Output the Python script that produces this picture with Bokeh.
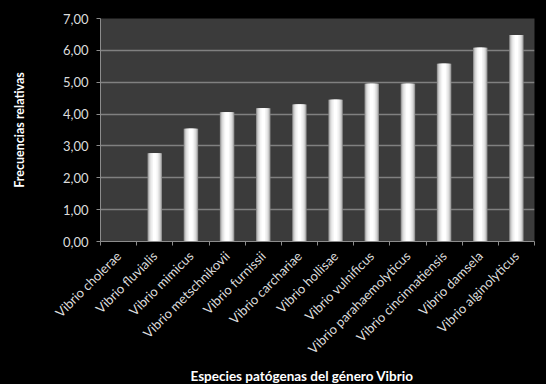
import math
from bokeh.plotting import figure
from bokeh.models import FixedTicker, Title, ColumnDataSource, Range1d
from bokeh.embed import file_html
from bokeh.resources import INLINE

categories = ["Vibrio cholerae", "Vibrio fluvialis", "Vibrio mimicus", "Vibrio metschnikovii",
              "Vibrio furnissii", "Vibrio carchariae", "Vibrio hollisae", "Vibrio vulnificus",
              "Vibrio parahaemolyticus", "Vibrio cincinnatiensis", "Vibrio damsela",
              "Vibrio alginolyticus"]
values = [0.0, 2.77, 3.54, 4.06, 4.18, 4.30, 4.45, 4.95, 4.95, 5.58, 6.08, 6.48]
y_ticks = [0, 1, 2, 3, 4, 5, 6, 7]
y_tick_labels = ["0,00", "1,00", "2,00", "3,00", "4,00", "5,00", "6,00", "7,00"]
x_title = "Especies patógenas del género Vibrio"
y_title = "Frecuencias relativas"

FONT = "Lato"
xs = [i + 0.5 for i in range(len(categories))]
src = ColumnDataSource(dict(x=xs, top=values))

p = figure(width=546, height=384, output_backend="svg", toolbar_location=None,
           x_range=Range1d(0, len(categories)), y_range=Range1d(0, 7),
           background_fill_color="#3b3b3b", border_fill_color="#000000",
           outline_line_color=None,
           min_border_left=100, min_border_right=12, min_border_top=18, min_border_bottom=143)

# bars with a simulated horizontal gradient (grey edges, white centre)
layers = [(0.40, "#8a8a8a"), (0.36, "#b4b4b4"), (0.31, "#d2d2d2"),
          (0.25, "#e6e6e6"), (0.18, "#f4f4f4"), (0.10, "#ffffff")]
for w, c in layers:
    p.vbar(x="x", top="top", bottom=0, width=w, source=src, fill_color=c, line_color=None)

# x axis: labels at centres, ticks at category boundaries (minor ticks)
p.xaxis.ticker = FixedTicker(ticks=xs, minor_ticks=list(range(len(categories) + 1)))
p.xaxis.major_label_overrides = {x: c for x, c in zip(xs, categories)}
p.xaxis.major_label_orientation = math.pi / 4
p.xaxis.major_tick_out = 0
p.xaxis.major_tick_in = 0
p.xaxis.minor_tick_out = 4
p.xaxis.minor_tick_in = 0
p.xaxis.minor_tick_line_color = "#8c8c8c"
p.xaxis.axis_line_color = "#8c8c8c"
p.xaxis.major_label_text_color = "#dcdcdc"
p.xaxis.major_label_text_font = FONT
p.xaxis.major_label_text_font_size = "13px"
p.xaxis.major_label_standoff = 8

p.yaxis.ticker = FixedTicker(ticks=y_ticks, minor_ticks=[])
p.yaxis.major_label_overrides = {t: l for t, l in zip(y_ticks, y_tick_labels)}
p.yaxis.major_tick_out = 4
p.yaxis.major_tick_in = 0
p.yaxis.major_tick_line_color = "#8c8c8c"
p.yaxis.axis_line_color = "#8c8c8c"
p.yaxis.major_label_text_color = "#dcdcdc"
p.yaxis.major_label_text_font = FONT
p.yaxis.major_label_text_font_size = "13px"
p.yaxis.major_label_standoff = 8
p.yaxis.axis_label = y_title
p.yaxis.axis_label_text_color = "#ffffff"
p.yaxis.axis_label_text_font = FONT
p.yaxis.axis_label_text_font_style = "bold"
p.yaxis.axis_label_text_font_size = "12.5px"
p.yaxis.axis_label_standoff = 33

p.xgrid.grid_line_color = None
p.ygrid.grid_line_color = "#808080"
p.ygrid.grid_line_width = 1.5

xt = Title(text=x_title, align="left", offset=90,
           text_color="#ffffff", text_font=FONT, text_font_style="bold",
           text_font_size="13.5px", standoff=0)
p.add_layout(xt, "below")

html = file_html(p, INLINE)
html = html.replace("</head>", "<style>html,body{background:#000 !important;}</style></head>", 1)
open("out.html", "w").write(html)
